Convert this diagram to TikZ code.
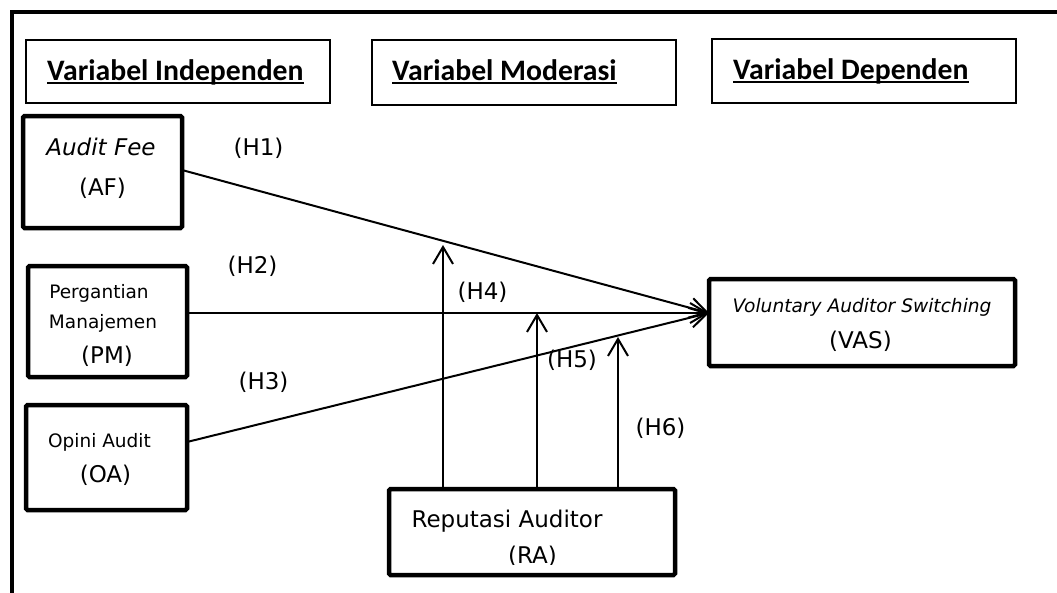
\documentclass[tikz,border=0pt]{standalone}
\usepackage{fontspec}
\setmainfont{DejaVu Sans}
\newfontfamily\hdrfont{Carlito}
\usetikzlibrary{arrows.meta,calc}
\begin{document}
\begin{tikzpicture}[x=1pt,y=-1pt,
  hdrbox/.style={draw,line width=1.4pt,inner sep=0,outer sep=0},
  varbox/.style={draw,line width=4.5pt,rounded corners=1.5pt,inner sep=0,outer sep=0},
  txt/.style={inner sep=0,anchor=base,font=\fontsize{23}{26}\selectfont},
  smalltxt/.style={inner sep=0,anchor=base,font=\fontsize{18.5}{22}\selectfont},
  hdrtxt/.style={inner sep=0,anchor=base west,font=\hdrfont\bfseries\fontsize{29.7}{33}\selectfont},
  link/.style={line width=2pt,-{Straight Barb[length=17pt,width=20pt,line width=2pt]}},
  plain/.style={line width=2pt}]
\useasboundingbox (0,0) rectangle (1057,592);
% outer frame
\draw[line width=4pt] (11.5,600) -- (11.5,12) -- (1065,12);
% header boxes
\node[hdrbox,minimum width=304pt,minimum height=63pt] (hb1) at (178,71.5) {};
\node[hdrbox,minimum width=304pt,minimum height=65pt] (hb2) at (524,72.5) {};
\node[hdrbox,minimum width=304pt,minimum height=64pt] (hb3) at (864,71) {};
\node[hdrtxt] (h1t) at (47,80) {Variabel Independen};
\node[hdrtxt] (h2t) at (392,80) {Variabel Moderasi};
\node[hdrtxt] (h3t) at (733,79) {Variabel Dependen};
\foreach \n in {h1t,h2t,h3t}{
  \draw[line width=2pt] ($(\n.base west)+(0,2.5)$) -- ($(\n.base east)+(0,2.5)$);
}
% variable boxes
\node[varbox,minimum width=159pt,minimum height=112pt] (AF) at (102.5,172) {};
\node[varbox,minimum width=159pt,minimum height=111pt] (PM) at (107.5,321.5) {};
\node[varbox,minimum width=161pt,minimum height=105pt] (OA) at (106.5,457.5) {};
\node[varbox,minimum width=306pt,minimum height=87pt] (VAS) at (862,322.5) {};
\node[varbox,minimum width=286pt,minimum height=86pt] (RA) at (532,532) {};
% texts
\node[txt] (afa) at (101,155) {\itshape Audit Fee};
\node[txt] (afb) at (102.5,195) {(AF)};
\node[smalltxt] (pma) at (99,298) {Pergantian};
\node[smalltxt] (pmb) at (103,328) {Manajemen};
\node[txt] (pmc) at (107,363) {(PM)};
\node[smalltxt] (oaa) at (99.5,447) {Opini Audit};
\node[txt] (oab) at (105.5,482) {(OA)};
\node[inner sep=0,anchor=base,font=\fontsize{18.6}{22}\selectfont\itshape] (vasa) at (862,312) {Voluntary Auditor Switching};
\node[txt] (vasb) at (860.5,348) {(VAS)};
\node[txt] (raa) at (507,527) {Reputasi Auditor};
\begin{scope}
\clip (380,500) rectangle (700,564.5);
\node[txt] (rab) at (532.5,563) {(RA)};
\end{scope}
% hypothesis labels
\node[txt] (H1) at (258.5,155) {(H1)};
\node[txt] (H2) at (252.5,273) {(H2)};
\node[txt] (H3) at (263.5,389) {(H3)};
\node[txt] (H4) at (482.5,299) {(H4)};
\node[txt] (H5) at (572,367) {(H5)};
\node[txt] (H6) at (660.5,435) {(H6)};
% connector coordinates
\coordinate (tip) at (709,313);
\coordinate (afout) at (182,170);
\coordinate (oaout) at (187,442);
\coordinate (t4) at (443,245);
\coordinate (t5) at (537,313);
\coordinate (t6) at (618,337);
% connectors
\draw[link] (afout) -- (tip);
\draw[link] (PM.east |- tip) -- (tip);
\draw[link] (oaout) -- (tip);
\draw[link] (RA.north -| t4) -- (t4);
\draw[link] (RA.north -| t5) -- (t5);
\draw[link] (RA.north -| t6) -- (t6);
\end{tikzpicture}
\end{document}
